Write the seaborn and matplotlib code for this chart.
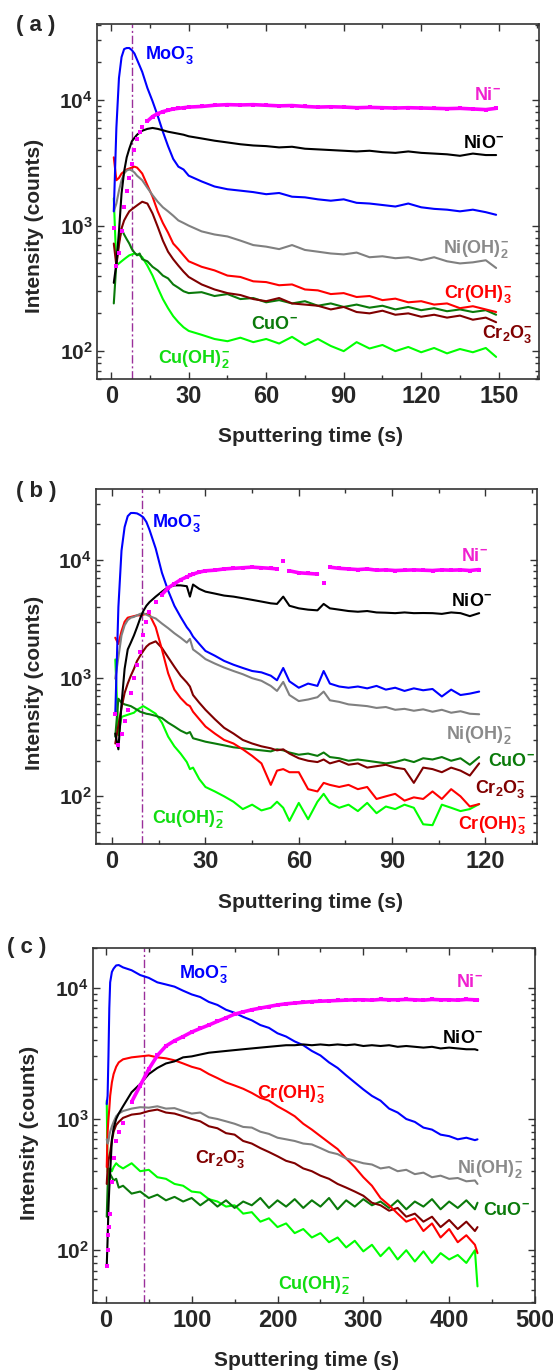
"""
Negative-ion depth profiles (ToF-SIMS) for three passive films, panels (a)-(c).
"""

import numpy as np
import matplotlib
matplotlib.use("Agg")
import matplotlib.pyplot as plt
import seaborn as sns
from matplotlib.ticker import MultipleLocator, LogLocator, FuncFormatter, NullFormatter

sns.set_style("ticks")
plt.rcParams["font.family"] = ["Liberation Sans", "DejaVu Sans"]
plt.rcParams["font.weight"] = "bold"
plt.rcParams["mathtext.fontset"] = "custom"
plt.rcParams["mathtext.rm"] = "Liberation Sans:bold"
plt.rcParams["mathtext.it"] = "Liberation Sans:bold"
plt.rcParams["mathtext.bf"] = "Liberation Sans:bold"

# ---------------- panel (a) ----------------
t_a = [1, 2, 3, 4, 5, 6, 7, 8, 9, 10, 11, 12, 14, 16, 18, 20, 22, 24, 26, 28, 30,
       35, 40, 45, 50, 55, 60, 65, 70, 75, 80, 85, 90, 95, 100, 105, 110, 115, 120,
       125, 130, 135, 140, 145, 149]
moo3_a = [1300, 6000, 15000, 22000, 25500, 26000, 26000, 25000, 23500, 21000, 18800, 16800,
          12500, 9800, 7500, 5600, 4300, 3400, 2950, 2800, 2500,
          2250, 2050, 1950, 1900, 1850, 1780, 1820, 1700, 1680, 1620, 1580, 1620, 1520, 1500,
          1460, 1420, 1500, 1400, 1360, 1340, 1300, 1340, 1280,
          1220]
ni_a = [950, 480, 600, 900, 1400, 1900, 2400, 3100, 4000, 4900, 5600, 6100,
        6800, 7400, 7800, 8100, 8300, 8500, 8600, 8700, 8800,
        8900, 9100, 9200, 9150, 9200, 9100, 9000, 9050, 8900, 8800, 8850, 8800, 8700, 8750,
        8700, 8650, 8700, 8650, 8600, 8550, 8600, 8500, 8400,
        8600]
nio_a = [350, 500, 900, 1800, 2700, 3500, 4100, 4700, 5000, 5300, 5500, 5700,
         5900, 6000, 5900, 5750, 5600, 5500, 5400, 5300, 5150,
         4950, 4750, 4600, 4450, 4350, 4300, 4200, 4250, 4100, 4050, 4000, 3950, 3900, 3950,
         3850, 3800, 3900, 3800, 3750, 3700, 3600, 3750, 3650,
         3650]
nioh2_a = [1300, 1500, 1900, 2300, 2600, 2750, 2800, 2750, 2650, 2500, 2400, 2300,
           2000, 1750, 1550, 1400, 1300, 1200, 1100, 1050, 1000,
           900, 850, 820, 760, 700, 680, 650, 700, 640, 620, 600, 590, 610, 560,
           570, 550, 560, 530, 560, 520, 500, 510, 530,
           460]
croh3_a = [3500, 2300, 2400, 2600, 2700, 2800, 2850, 2900, 2950, 2900, 2750, 2600,
           2100, 1700, 1300, 1050, 880, 720, 650, 580, 520,
           470, 440, 400, 390, 360, 355, 335, 340, 310, 305, 285, 290, 270, 275,
           255, 262, 245, 250, 235, 240, 220, 228, 215,
           205]
cr2o3_a = [720, 480, 700, 950, 1100, 1200, 1300, 1350, 1400, 1450, 1500, 1550,
           1500, 1250, 980, 760, 620, 540, 480, 430, 390,
           340, 310, 290, 280, 260, 250, 265, 240, 235, 230, 215, 225, 205, 200,
           210, 195, 200, 188, 195, 185, 192, 178, 185,
           170]
cuo_a = [240, 500, 750, 940, 850, 780, 720, 650, 610, 580, 600, 540,
         520, 470, 440, 400, 380, 340, 320, 300, 290,
         295, 275, 285, 260, 265, 245, 255, 240, 250, 230, 240, 225, 235, 222,
         230, 215, 225, 212, 220, 208, 215, 205, 212,
         195]
cuoh2_a = [1650, 480, 500, 520, 540, 560, 580, 590, 600, 590, 580, 560,
           480, 400, 320, 260, 220, 190, 170, 155, 145,
           135, 125, 120, 128, 118, 125, 115, 130, 112, 125, 110, 100, 118, 105,
           112, 100, 108, 98, 106, 96, 104, 98, 106,
           90]

# ---------------- panel (b) ----------------
t_b = [1, 2, 3, 4, 5, 6, 7, 8, 9, 10, 11, 12, 14, 16, 18, 20, 22, 24, 25, 26, 28, 30,
       33, 36, 39, 42, 45, 48, 51, 53, 55, 57, 60, 63, 66, 68, 70,
       73, 76, 79, 82, 85, 88, 91, 94, 97, 100, 103, 106, 109, 112, 115, 118]
moo3_b = [500, 4000, 12000, 19000, 23500, 25000, 25000, 24800, 24000, 23000, 21000, 18000,
          12500, 7800, 5500, 4100, 3300, 2700, 2500, 2250, 1950, 1700,
          1550, 1400, 1300, 1220, 1150, 1120, 1050, 960, 1220, 940, 830, 900, 860, 1150, 900,
          850, 830, 850, 820, 860, 800, 830, 780, 820, 790, 810, 700, 800, 720, 740, 770]
ni_b = [500, 270, 340, 430, 540, 750, 1000, 1300, 1650, 2300, 3000, 3600,
        4400, 5100, 5800, 6300, 6800, 7200, 7400, 7600, 7900, 8100,
        8200, 8400, 8500, 8600, 8700, 8600, 8500, 8400, 9800, 8100, 7800, 7700, 7600, 6400, 8700,
        8500, 8400, 8300, 8400, 8200, 8250, 8150, 8200, 8250, 8200, 8150, 8250, 8200, 8250, 8150, 8300]
nio_b = [340, 250, 600, 1200, 1750, 2000, 2300, 2700, 3200, 3700, 4100, 4400,
         4900, 5400, 5900, 6100, 6100, 6000, 4900, 6200, 5700, 5400,
         5200, 5000, 4900, 4750, 4600, 4450, 4300, 4250, 4900, 4100, 3900, 3800, 3750, 4250, 3900,
         3800, 3700, 3650, 3700, 3600, 3580, 3550, 3600, 3550, 3560, 3550, 3500, 3600, 3550, 3350, 3550]
nioh2_b = [990, 1500, 2300, 2800, 3100, 3250, 3300, 3400, 3500, 3550, 3450, 3350,
           3200, 2900, 2650, 2400, 2200, 2000, 2150, 1750, 1600, 1450,
           1330, 1230, 1150, 1080, 1000, 950, 860, 780, 930, 720, 640, 660, 690, 770, 650,
           630, 600, 590, 580, 560, 570, 540, 550, 530, 545, 520, 540, 510, 525, 500, 495]
croh3_b = [2200, 1950, 2500, 3000, 3250, 3300, 3350, 3400, 3400, 3450, 3500, 3450,
           2700, 1750, 1100, 800, 680, 600, 580, 520, 450, 390,
           340, 300, 280, 250, 220, 190, 125, 165, 170, 160, 160, 115, 110, 130, 125,
           120, 125, 115, 120, 95, 100, 105, 92, 98, 95, 110, 95, 115, 100, 82, 86]
cr2o3_b = [280, 400, 560, 750, 900, 1050, 1200, 1400, 1550, 1700, 1850, 1950,
           2050, 1800, 1500, 1250, 1050, 920, 850, 720, 620, 540,
           450, 380, 340, 300, 280, 265, 255, 245, 250, 230, 210, 200, 195, 205, 190,
           200, 185, 190, 175, 180, 185, 175, 170, 130, 175, 170, 160, 175, 165, 150, 190]
cuo_b = [320, 670, 620, 600, 590, 580, 560, 540, 520, 510, 500, 495,
         480, 460, 420, 390, 360, 340, 350, 310, 300, 290,
         280, 270, 260, 255, 250, 245, 240, 250, 245, 235, 225, 230, 220, 235, 215,
         210, 200, 205, 200, 195, 190, 195, 205, 195, 210, 205, 215, 200, 210, 185, 215]
cuoh2_b = [1440, 330, 470, 480, 490, 500, 510, 540, 560, 580, 560, 540,
           500, 420, 320, 265, 230, 195, 170, 175, 140, 120,
           110, 100, 90, 78, 85, 76, 80, 90, 80, 62, 88, 64, 90, 105, 88,
           80, 85, 75, 88, 72, 82, 78, 85, 80, 58, 57, 85, 80, 75, 78, 86]

# ---------------- panel (c) ----------------
t_c = [1, 2, 3, 4, 5, 7, 9, 12, 15,
       20, 30, 40, 50, 60, 70, 80, 90, 100, 110,
       120, 130, 140, 150, 160, 170, 180, 190, 200, 210,
       220, 230, 240, 250, 260, 270, 280, 290, 300, 310,
       320, 330, 340, 350, 360, 370, 380, 390, 400, 410,
       420, 430, 433]
moo3_c = [1300, 1500, 3000, 7000, 11000, 13200, 14000, 14800, 14900,
          14300, 13600, 12500, 11900, 11000, 10600, 10200, 9500, 8900, 8500,
          7800, 7400, 6800, 6450, 6000, 5650, 5200, 4950, 4500, 4250,
          3900, 3650, 3300, 3050, 2700, 2450, 2150, 1900, 1680, 1500,
          1380, 1200, 1120, 1000, 950, 860, 830, 760, 740, 700,
          720, 690, 700]
ni_c = [76, 100, 130, 150, 190, 330, 500, 680, 800,
        930, 1350, 1800, 2400, 3050, 3600, 3950, 4250, 4600, 4900,
        5200, 5550, 5900, 6300, 6550, 6800, 7000, 7200, 7400, 7550,
        7650, 7750, 7850, 7900, 7950, 8000, 8050, 8100, 8100, 8050,
        8150, 8100, 8100, 8150, 8100, 8050, 8150, 8100, 8100, 8050,
        8150, 8100, 8100]
nio_c = [76, 120, 210, 300, 390, 700, 850, 1000, 1100,
         1250, 1600, 1850, 2200, 2450, 2650, 2750, 2950, 3000, 3100,
         3200, 3250, 3300, 3350, 3400, 3450, 3500, 3550, 3600, 3650,
         3650, 3700, 3650, 3700, 3650, 3700, 3650, 3700, 3600, 3650,
         3600, 3650, 3550, 3600, 3550, 3500, 3550, 3450, 3500, 3450,
         3400, 3400, 3350]
nioh2_c = [700, 650, 680, 750, 800, 880, 950, 1050, 1100,
           1150, 1200, 1230, 1220, 1250, 1200, 1210, 1150, 1100, 1120,
           1030, 1000, 960, 920, 870, 860, 800, 770, 720, 700,
           680, 650, 640, 600, 560, 540, 500, 480, 460, 450,
           420, 430, 400, 410, 380, 390, 360, 370, 350, 355,
           335, 340, 320]
croh3_c = [430, 800, 1000, 1200, 1500, 1900, 2200, 2500, 2700,
           2850, 2950, 3000, 3050, 2950, 2900, 2800, 2650, 2500, 2400,
           2200, 2050, 1900, 1800, 1700, 1580, 1450, 1380, 1250, 1150,
           1050, 920, 830, 740, 660, 590, 500, 430, 360, 310,
           250, 220, 190, 165, 175, 140, 160, 125, 145, 115,
           130, 110, 95]
cr2o3_c = [320, 420, 480, 520, 560, 680, 800, 900, 950,
           1020, 1080, 1100, 1150, 1180, 1120, 1100, 1050, 1000, 960,
           880, 850, 780, 760, 680, 650, 600, 560, 520, 480,
           460, 420, 400, 370, 350, 320, 300, 280, 260, 230,
           220, 200, 210, 180, 190, 165, 180, 150, 170, 145,
           165, 140, 150]
cuo_c = [180, 300, 420, 400, 380, 360, 340, 350, 300,
         310, 270, 280, 250, 265, 240, 255, 235, 250, 220,
         245, 215, 240, 210, 235, 220, 250, 210, 240, 215,
         245, 210, 240, 215, 250, 205, 240, 215, 245, 220,
         235, 210, 240, 205, 235, 215, 245, 205, 235, 210,
         240, 205, 230]
cuoh2_c = [1380, 400, 380, 400, 420, 400, 430, 460, 440,
           420, 460, 400, 410, 360, 350, 320, 310, 280, 275,
           245, 235, 215, 220, 190, 195, 165, 175, 150, 160,
           135, 145, 125, 135, 115, 125, 105, 118, 98, 110,
           90, 105, 85, 100, 82, 98, 80, 95, 85, 92,
           80, 100, 53]

# colours / label text per species
colors = {"MoO3": "#0000ff", "Ni": "#ff00ff", "NiO": "#000000", "NiOH2": "#808080",
          "CrOH3": "#ff0000", "Cr2O3": "#800000", "CuO": "#0a7a0a", "CuOH2": "#00ff00"}
label_colors = dict(colors, Ni="#f020d0", NiOH2="#8a8a8a", CuOH2="#11dd11")
names = {"MoO3": r"MoO$_3^{-}$", "Ni": r"Ni$^{-}$", "NiO": r"NiO$^{-}$",
         "NiOH2": r"Ni(OH)$_2^{-}$", "CrOH3": r"Cr(OH)$_3^{-}$", "Cr2O3": r"Cr$_2$O$_3^{-}$",
         "CuO": r"CuO$^{-}$", "CuOH2": r"Cu(OH)$_2^{-}$"}
draw_order = ["CuOH2", "CuO", "Cr2O3", "CrOH3", "NiOH2", "MoO3", "NiO"]

panels = [
    dict(tag="( a )", t=t_a,
         data={"MoO3": moo3_a, "Ni": ni_a, "NiO": nio_a, "NiOH2": nioh2_a,
               "CrOH3": croh3_a, "Cr2O3": cr2o3_a, "CuO": cuo_a, "CuOH2": cuoh2_a},
         ni_lines=[(12, None)], vline=8, xlim=(-5.5, 165.6), ylim=(60, 40400),
         xmaj=30, xmin=15, rect=[97, 24, 539, 379],
         labels=[("MoO3", 13, 23700, "left"), ("Ni", 151, 11370, "right"),
                 ("NiO", 152, 4690, "right"), ("NiOH2", 154, 686, "right"),
                 ("CrOH3", 155, 300, "right"), ("CuO", 54, 170, "left"),
                 ("Cr2O3", 163, 144, "right"), ("CuOH2", 18, 91, "left")],
         tagpos=(16, 25), xlab=(311, 437), ylab=(35, 226)),
    dict(tag="( b )", t=t_b,
         data={"MoO3": moo3_b, "Ni": ni_b, "NiO": nio_b, "NiOH2": nioh2_b,
               "CrOH3": croh3_b, "Cr2O3": cr2o3_b, "CuO": cuo_b, "CuOH2": cuoh2_b},
         ni_lines=[(13, 30), (31, 35), (36, None)], vline=9.6, xlim=(-5.2, 136.6),
         ylim=(39.5, 39900), xmaj=30, xmin=15, rect=[96, 489, 537, 844],
         labels=[("MoO3", 12.7, 21700, "left"), ("Ni", 121, 11100, "right"),
                 ("NiO", 122, 4620, "right"), ("NiOH2", 128.7, 348, "right"),
                 ("CuO", 120.8, 204, "left"), ("Cr2O3", 133, 122, "right"),
                 ("CrOH3", 133, 59.5, "right"), ("CuOH2", 12.7, 67.8, "left")],
         tagpos=(16, 492), xlab=(310, 902), ylab=(35, 683)),
    dict(tag="( c )", t=t_c,
         data={"MoO3": moo3_c, "Ni": ni_c, "NiO": nio_c, "NiOH2": nioh2_c,
               "CrOH3": croh3_c, "Cr2O3": cr2o3_c, "CuO": cuo_c, "CuOH2": cuoh2_c},
         ni_lines=[(10, None)], vline=45, xlim=(-15, 500), ylim=(39.6, 20100),
         xmaj=100, xmin=50, rect=[93, 948, 535, 1303],
         labels=[("MoO3", 85.5, 13200, "left"), ("Ni", 439, 11400, "right"),
                 ("NiO", 439, 4260, "right"), ("CrOH3", 176, 1610, "left"),
                 ("Cr2O3", 104, 514, "left"), ("NiOH2", 486, 431, "right"),
                 ("CuO", 439, 207, "left"), ("CuOH2", 201, 57, "left")],
         tagpos=(7, 947), xlab=(307, 1361), ylab=(30, 1133)),
]

W, H = 553, 1371
fig = plt.figure(figsize=(W / 100, H / 100), dpi=100)

for p in panels:
    x0, y0, x1, y1 = p["rect"]
    ax = fig.add_axes([x0 / W, 1 - y1 / H, (x1 - x0) / W, (y1 - y0) / H])
    ax.set_yscale("log")
    t = np.array(p["t"], dtype=float)

    ax.axvline(p["vline"], color="#9b2f9b", lw=1.0, ls=(0, (6, 2, 1.5, 2)), zorder=1)

    for z, key in enumerate(draw_order):
        sns.lineplot(x=t, y=p["data"][key], ax=ax, color=colors[key], lw=1.5,
                     estimator=None, sort=False, zorder=2 + z)

    # Ni- is plotted as squares; dense part joined into a thick band
    ni = np.array(p["data"]["Ni"], dtype=float)
    for a, b in p["ni_lines"]:
        sns.lineplot(x=t[a:b], y=ni[a:b], ax=ax, color=colors["Ni"], lw=2.6,
                     estimator=None, sort=False, zorder=12)
    sns.scatterplot(x=t, y=ni, ax=ax, color=colors["Ni"], marker="s", s=10,
                    linewidth=0, zorder=13)

    for key, lx, ly, ha in p["labels"]:
        ax.annotate(names[key], (lx, ly), xytext=(0, -4.6), textcoords="offset points",
                    ha=ha, va="baseline", fontsize=13, fontweight="bold",
                    color=label_colors[key], zorder=20)

    ax.set_xlim(*p["xlim"])
    ax.set_ylim(*p["ylim"])
    ax.set_xlabel("")
    ax.set_ylabel("")
    ax.xaxis.set_major_locator(MultipleLocator(p["xmaj"]))
    ax.xaxis.set_minor_locator(MultipleLocator(p["xmin"]))
    ax.yaxis.set_major_locator(LogLocator(base=10, numticks=10))
    ax.yaxis.set_minor_locator(LogLocator(base=10, subs=np.arange(2, 10), numticks=20))
    ax.yaxis.set_major_formatter(FuncFormatter(lambda v, pos: r"$10^{%d}$" % round(np.log10(v))))
    ax.yaxis.set_minor_formatter(NullFormatter())
    ax.tick_params(which="both", direction="in", top=True, right=True, width=1.0,
                   color="#333333")
    ax.tick_params(which="major", length=5)
    ax.tick_params(which="minor", length=3)
    ax.tick_params(axis="x", labelsize=17, pad=4)
    ax.tick_params(axis="y", labelsize=15, pad=3)
    for s in ax.spines.values():
        s.set_linewidth(1.2)
        s.set_color("#333333")

    fig.text(p["tagpos"][0] / W, 1 - p["tagpos"][1] / H, p["tag"], fontsize=16,
             fontweight="bold", ha="left", va="center")
    fig.text(p["xlab"][0] / W, 1 - p["xlab"][1] / H, "Sputtering time (s)", fontsize=15,
             fontweight="bold", ha="center", va="center")
    fig.text(p["ylab"][0] / W, 1 - p["ylab"][1] / H, "Intensity (counts)", fontsize=15,
             fontweight="bold", ha="center", va="center", rotation=90)

fig.savefig("out.png", dpi=100)
